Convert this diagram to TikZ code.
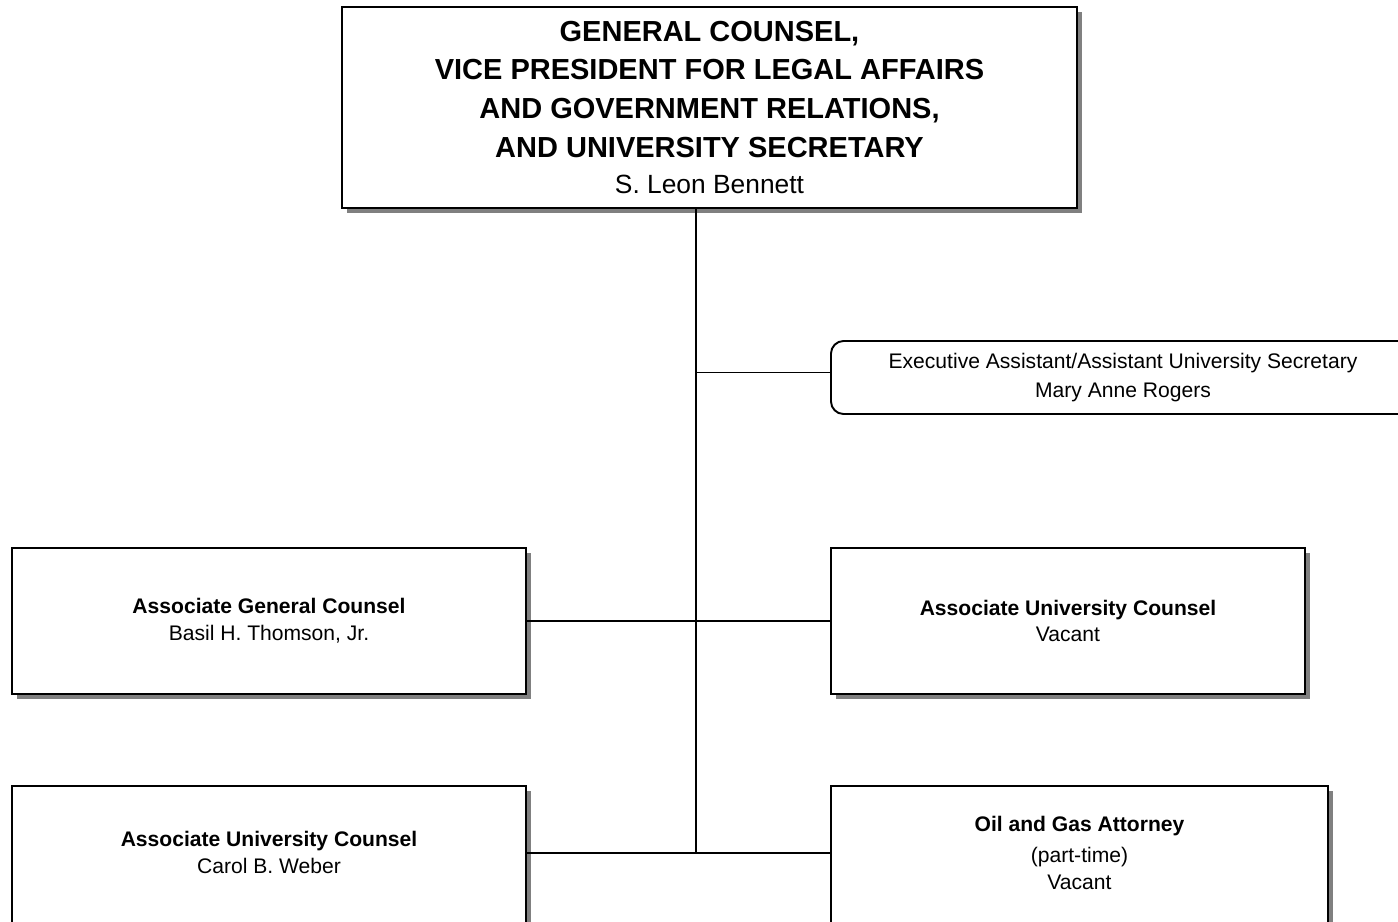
\documentclass[tikz,border=0pt]{standalone}
\usepackage{fontspec}
\setmainfont{Liberation Sans}
\usepackage{tikz}
\usetikzlibrary{positioning,shapes,shadows,calc}

\begin{document}
\begin{tikzpicture}[line width=0.9pt,
    unit/.style={draw=black, fill=white, line width=1.1pt, align=center, inner sep=0pt,
        drop shadow={shadow xshift=0.1cm, shadow yshift=-0.1cm, fill=black!50, opacity=1},
        font=\fontsize{12}{15.3}\selectfont},
    staff/.style={draw=black, fill=white, line width=1.1pt, align=center, inner sep=0pt,
        rounded corners=0.25cm, font=\fontsize{12}{16.4}\selectfont}]
    \useasboundingbox (0,0) rectangle (27.96,-18.44);

    \node[unit, minimum width=14.7cm, minimum height=4.02cm,
        font=\fontsize{16.5}{22}\selectfont\bfseries] (gc) at (14.19,-2.15)
        {GENERAL COUNSEL,\\ VICE PRESIDENT FOR LEGAL AFFAIRS\\ AND GOVERNMENT RELATIONS,\\
         AND UNIVERSITY SECRETARY\\[-1pt] {\mdseries\fontsize{15}{18}\selectfont S. Leon Bennett}};

    \node[staff, minimum width=11.68cm, minimum height=1.46cm] (ea) at (22.46,-7.55)
        {Executive Assistant/Assistant University Secretary\\ Mary Anne Rogers};

    \node[unit, minimum width=10.28cm, minimum height=2.92cm] (agc) at (5.38,-12.42)
        {\textbf{Associate General Counsel}\\ Basil H. Thomson, Jr.};
    \node[unit, minimum width=9.48cm, minimum height=2.92cm] (auc) at (21.36,-12.42)
        {\textbf{Associate University Counsel}\\ Vacant};

    % bottom row runs off the page, text sits a little high
    \node[unit, minimum width=10.28cm, minimum height=2.92cm, anchor=north, text depth=0.25cm] (weber) at (5.38,-15.70)
        {\textbf{Associate University Counsel}\\ Carol B. Weber};
    \node[unit, minimum width=9.94cm, minimum height=2.92cm, anchor=north, text depth=0.25cm] (oil) at (21.59,-15.70)
        {\textbf{Oil and Gas Attorney}\\[2pt] (part-time)\\ Vacant};

    % spine down from the top box
    \coordinate (spine) at (13.92,-17.06);
    \draw (spine |- gc.south) -- (spine);

    \draw (spine |- ea.179) -- (ea.179);
    \draw (agc.east) -- (auc.west);
    \draw (weber.east |- spine) -- (oil.west |- spine);
\end{tikzpicture}
\end{document}
